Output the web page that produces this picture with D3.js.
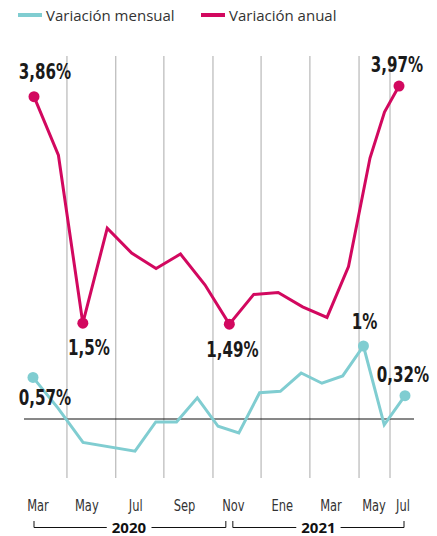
<!DOCTYPE html>
<html>
<head>
<meta charset="utf-8">
<script src="https://cdn.jsdelivr.net/npm/d3@7"></script>
<style>
    body { margin: 0; background: #fff; }
    svg { display: block; }
</style>
</head>
<body>
<div id="chart"></div>
<script>
// months from Mar 2020 to Jul 2021
const months = ['Mar', 'Abr', 'May', 'Jun', 'Jul', 'Ago', 'Sep', 'Oct', 'Nov', 'Dic',
    'Ene', 'Feb', 'Mar', 'Abr', 'May', 'Jun', 'Jul'];
const annual = [3.86, 3.25, 1.5, 2.49, 2.23, 2.07, 2.22, 1.90, 1.49, 1.80, 1.82, 1.67, 1.56, 2.09, 3.22, 3.70, 3.97];
const monthly = [0.57, 0.15, -0.32, -0.44, -0.04, -0.04, 0.29, -0.10, -0.19, 0.36, 0.38, 0.63, 0.49, 0.59, 1.0, -0.08, 0.32];
const tickMonths = [0, 2, 4, 6, 8, 10, 12, 14, 16];
const gridMonths = [1.35, 3.35, 5.32, 7.33, 9.3, 11.3, 13.49, 15.38];
const years = [['2020', 0, 8], ['2021', 8, 16]];
const annualLabels = [[0, '3,86%'], [2, '1,5%'], [8, '1,49%'], [16, '3,97%']];
const monthlyLabels = [[0, '0,57%'], [14, '1%'], [16, '0,32%']];

const width = 437;
const height = 536;
const magenta = '#d2085f';
const teal = '#80cdd1';
const narrow = "'DejaVu Sans Condensed', 'DejaVu Sans', sans-serif";

// the two lines are not drawn on quite the same month grid
const x = d3.scaleLinear().domain([0, 12, 14, 16]).range([34, 327, 370, 399]);
const xM = d3.scaleLinear().domain([0, 2, 3, 16]).range([33, 83, 135, 405]);
const yA = d3.scaleLinear().domain([0, 4]).range([467.2, 83.2]);
const yM = d3.scaleLinear().domain([0, 1]).range([419, 346]);

const svg = d3.select('#chart').append('svg')
    .attr('width', width)
    .attr('height', height)
    .attr('viewBox', `0,0,${width},${height}`);

// squeezed text, to stand in for the condensed face of the original
function squeezed(g, tx, ty, sx) {
    return g.append('text')
        .attr('transform', `translate(${tx},${ty}) scale(${sx},1)`)
        .attr('text-anchor', 'middle');
}

// legend
const legend = [['Variación mensual', teal, 18], ['Variación anual', magenta, 201]];
legend.forEach(([name, c, lx]) => {
    svg.append('rect')
        .attr('x', lx).attr('y', 13)
        .attr('width', 24).attr('height', 4)
        .attr('fill', c);
    svg.append('text')
        .attr('x', lx + 28).attr('y', 21)
        .attr('font-family', "'Open Sans', sans-serif")
        .attr('font-size', 15)
        .attr('fill', '#333')
        .text(name);
});

// vertical gridlines
svg.append('g')
    .selectAll('line')
    .data(gridMonths)
    .join('line')
    .attr('x1', d => x(d)).attr('x2', d => x(d))
    .attr('y1', 56).attr('y2', 478)
    .attr('stroke', '#aaa')
    .attr('stroke-width', 1);

// zero line
svg.append('line')
    .attr('x1', 24).attr('x2', 414)
    .attr('y1', yM(0)).attr('y2', yM(0))
    .attr('stroke', '#111')
    .attr('stroke-width', 1);

// month labels
tickMonths.forEach(d => {
    squeezed(svg, x(d) + 4, 511, 0.85)
        .attr('font-family', narrow)
        .attr('font-size', 15)
        .attr('fill', '#333')
        .text(months[d]);
});

// year brackets
years.forEach(([label, a, b], i) => {
    const x0 = x(a) + (i === 0 ? 0 : 3.5);
    const x1 = x(b) + (i === 0 ? -3.5 : 5);
    svg.append('path')
        .attr('d', `M${x0},521V527.5H${x1}V521`)
        .attr('stroke', '#111').attr('stroke-width', 1).attr('fill', 'none');
    const t = svg.append('text')
        .attr('x', (x0 + x1) / 2 + (i === 0 ? -1 : 0))
        .attr('y', 532.5)
        .attr('text-anchor', 'middle')
        .attr('font-family', "'Open Sans', sans-serif")
        .attr('font-weight', 'bold')
        .attr('font-size', 15)
        .attr('fill', '#111')
        .text(label);
    const bb = t.node().getBBox();
    svg.append('rect')
        .attr('x', bb.x - 5).attr('y', 523)
        .attr('width', bb.width + 10).attr('height', 9)
        .attr('fill', '#fff');
    t.raise();
});

// lines
const lineA = d3.line().x((d, i) => x(i)).y(d => yA(d));
const lineM = d3.line().x((d, i) => xM(i)).y(d => yM(d));

svg.append('path')
    .datum(monthly)
    .attr('d', lineM)
    .attr('fill', 'none')
    .attr('stroke', teal)
    .attr('stroke-width', 3);

svg.append('path')
    .datum(annual)
    .attr('d', lineA)
    .attr('fill', 'none')
    .attr('stroke', magenta)
    .attr('stroke-width', 3);

// highlighted points and their labels
const offA = { 0: [11, -18], 2: [6, 32], 8: [3, 33], 16: [-2, -14] };
const offM = { 0: [12, 28], 14: [1, -17], 16: [-2, -14] };

function points(labels, values, sx, sy, c, off) {
    labels.forEach(([i, txt]) => {
        const px = sx(i), py = sy(values[i]);
        svg.append('circle')
            .attr('cx', px).attr('cy', py)
            .attr('r', 5.5)
            .attr('fill', c);
        squeezed(svg, px + off[i][0], py + off[i][1], 0.8)
            .attr('font-family', narrow)
            .attr('font-weight', 'bold')
            .attr('font-size', 21)
            .attr('fill', '#1a1a1a')
            .text(txt);
    });
}

points(monthlyLabels, monthly, xM, yM, teal, offM);
points(annualLabels, annual, x, yA, magenta, offA);
</script>
</body>
</html>
